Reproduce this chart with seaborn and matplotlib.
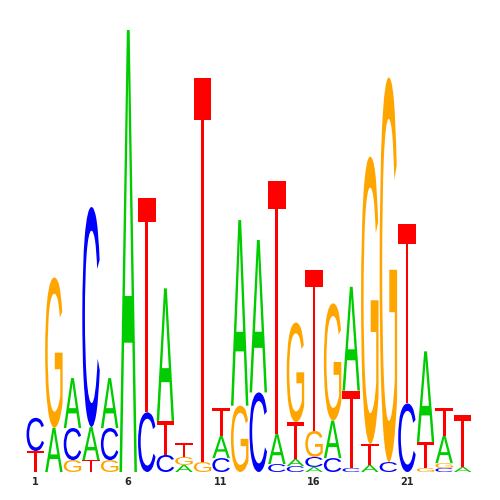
import numpy as np
import seaborn as sns
import matplotlib.pyplot as plt
from matplotlib.textpath import TextPath
from matplotlib.patches import PathPatch
from matplotlib.font_manager import FontProperties
from matplotlib.transforms import Affine2D

# Hauteurs des lettres (bits) par position
positions = list(range(1, 25))
A = [0, 0.2, 0.226, 0.15, 0.226, 2.0, 0, 0.6, 0.032, 0, 0.1, 0.84,
     0.69, 0.136, 0.032, 0.023, 0.17, 0.47, 0.032, 0, 0, 0.41, 0.125, 0.023]
C = [0.15, 0, 0.145, 0.995, 0.145, 0, 0.27, 0.077, 0, 0, 0.063, 0,
     0.36, 0.036, 0.027, 0.045, 0.063, 0.018, 0, 0.045, 0.31, 0, 0.018, 0]
G = [0, 0.68, 0.054, 0, 0.054, 0, 0, 0, 0.036, 0.045, 0, 0.3,
     0, 0, 0.45, 0.118, 0.53, 0, 1.3, 1.74, 0, 0.018, 0.022, 0]
T = [0.095, 0, 0, 0.054, 0, 0, 0.97, 0.154, 0.063, 1.74, 0.127, 0,
     0, 1.145, 0.167, 0.73, 0, 0.35, 0.095, 0, 0.81, 0.118, 0.125, 0.235]
tick_pos = [1, 6, 11, 16, 21]

colors = {'A': '#00CC00', 'C': '#0000FF', 'G': '#FFA500', 'T': '#FF0000'}
heights = {'A': A, 'C': C, 'G': G, 'T': T}

sns.set_style('white')
fp = FontProperties(family='Liberation Sans', weight='normal')

fig = plt.figure(figsize=(5, 5), dpi=100)
ax = fig.add_axes([26 / 500, 28 / 500, 446 / 500, 442 / 500])

width = 0.94


def draw_letter(ax, letter, x, y, w, h, color):
    path = TextPath((0, 0), letter, size=1, prop=fp)
    ext = path.get_extents()
    tr = (Affine2D()
          .translate(-ext.x0, -ext.y0)
          .scale(w / ext.width, h / ext.height)
          .translate(x - w / 2, y))
    ax.add_patch(PathPatch(tr.transform_path(path), facecolor=color,
                           edgecolor='none'))


# Empilement : la plus petite lettre en bas
for i, pos in enumerate(positions):
    stack = sorted(['A', 'C', 'G', 'T'], key=lambda l: heights[l][i])
    y = 0
    for l in stack:
        h = heights[l][i]
        if h <= 0:
            continue
        draw_letter(ax, l, pos, y, width, h, colors[l])
        y += h

ax.set_xlim(0.5, 24.5)
ax.set_ylim(0, 2.0)
ax.set_xticks(tick_pos)
ax.set_xticklabels([str(t) for t in tick_pos], fontsize=7, fontweight='bold')
ax.tick_params(axis='x', length=0, pad=3.5)
ax.set_yticks([])
sns.despine(ax=ax, left=True, bottom=True)

fig.savefig('out.png', dpi=100)
